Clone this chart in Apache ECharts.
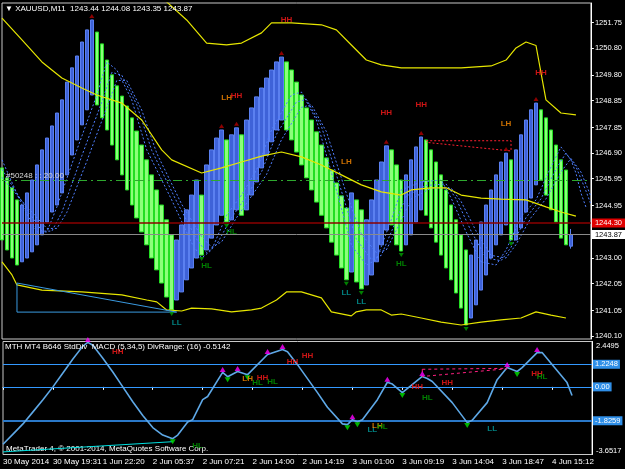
<!DOCTYPE html>
<html><head><meta charset="utf-8">
<script src="https://cdn.jsdelivr.net/npm/echarts@6/dist/echarts.min.js"></script>
<style>html,body{margin:0;padding:0;background:#000;}#c{width:625px;height:469px;}</style>
</head><body><div id="c"></div>
<script>
// ---------- DATA ----------
const timeLabels = ['30 May 2014','30 May 19:31','1 Jun 22:20','2 Jun 05:37','2 Jun 07:21','2 Jun 14:00','2 Jun 14:19','3 Jun 01:00','3 Jun 09:19','3 Jun 14:04','3 Jun 18:47','4 Jun 15:12'];
const priceTicks = [1251.75,1250.80,1249.80,1248.85,1247.85,1246.90,1245.95,1244.95,1243.00,1242.05,1241.05,1240.10];
const lastQuote = [1243.44,1244.08,1243.35,1243.87]; // O H L C
const barOpen = [
 1246.35,1245.98,1245.61,1245.16,
 1242.86,1243.00,1243.23,1243.49,1243.86,1244.34,1244.71,1244.97,1245.42,1246.09,1246.83,1247.39,1247.95,1248.51,1249.06,
 1251.40,1250.96,1250.36,1249.81,1249.40,1249.02,1248.65,1248.21,1247.72,1247.20,1246.65,1246.09,1245.53,1244.97,1244.42,1243.86,
 1241.44,1241.74,1242.19,1242.63,1243.00,
 1245.34,
 1243.30,1243.74,1244.23,1244.59,
 1247.39,
 1244.42,1244.79,
 1247.58,
 1244.79,1245.34,1245.83,1246.35,1246.83,1247.32,1247.76,1248.13,
 1250.29,1249.99,1249.54,1249.06,1248.58,1248.13,1247.69,1247.20,1246.72,1246.27,1245.79,1245.31,1244.86,
 1242.48,
 1245.16,1244.79,
 1242.00,1242.37,1242.86,1243.49,1244.04,
 1247.02,1246.46,1245.90,
 1243.49,1243.86,1244.34,1244.79,
 1247.39,1247.02,1246.57,1246.09,1245.53,1244.97,1244.42,1243.86,1243.30,
 1240.77,1241.26,1241.81,1242.37,1243.00,1243.49,1243.86,1244.23,
 1246.65,
 1243.67,1244.12,1244.71,1245.23,1245.72,
 1248.51,1248.21,1247.76,1247.20,1246.65,1246.27
];
const barClose = [
 1243.67,1243.30,1243.00,1242.74,
 1244.97,1245.42,1245.90,1246.46,1247.02,1247.46,1247.91,1248.39,1248.88,1249.54,1250.07,1250.51,1251.03,1251.48,1251.85,
 1248.69,1248.21,1247.76,1247.20,1246.65,1246.09,1245.53,1244.97,1244.49,1243.97,1243.49,1243.00,1242.56,1242.07,1241.55,1241.07,
 1243.67,1244.23,1244.79,1245.34,1245.90,
 1243.11,
 1246.46,1247.02,1247.46,1247.76,
 1244.34,
 1247.58,1247.84,
 1244.59,
 1248.13,1248.58,1248.99,1249.32,1249.69,1249.99,1250.29,1250.47,
 1247.76,1247.39,1246.94,1246.46,1245.98,1245.53,1245.08,1244.59,1244.12,1243.59,1243.11,1242.63,1242.19,
 1245.42,
 1242.11,1241.85,
 1244.42,1245.16,1245.90,1246.57,1247.17,
 1244.23,1243.49,1243.26,
 1246.09,1246.65,1247.13,1247.50,
 1244.59,1244.12,1243.59,1243.11,1242.63,1242.19,1241.70,1241.14,1240.51,
 1243.11,1243.67,1244.34,1244.97,1245.53,1246.09,1246.57,1246.90,
 1243.67,
 1247.02,1247.58,1248.13,1248.51,1248.76,
 1245.90,1245.34,1244.79,1244.34,1243.74,1243.49
];
const bandUpper = [[30,1253.0],[33,1252.52],[37,1251.85],[41,1250.99],[45,1250.92],[48,1250.99],[52,1251.37],[54,1251.74],[58,1251.74],[64,1251.67],[67,1251.48],[70,1250.92],[73,1250.36],[76,1250.18],[80,1250.07],[86,1250.07],[92,1250.07],[98,1250.14],[101,1250.36],[103,1250.81],[105,1251.03],[107,1250.9],[109,1248.88],[112,1248.39],[115,1248.32]];
const bandMid = [[0,1251.92],[4,1251.11],[8,1250.29],[12,1249.69],[16,1249.32],[19,1249.06],[24,1248.76],[28,1248.13],[32,1247.02],[34,1246.65],[40,1246.16],[44,1246.35],[48,1246.57],[52,1246.79],[56,1246.94],[60,1246.76],[64,1246.46],[68,1246.09],[72,1245.72],[76,1245.46],[80,1245.34],[82,1245.53],[86,1245.61],[89,1245.61],[92,1245.34],[96,1245.23],[100,1245.19],[105,1245.16],[109,1244.90],[112,1244.71],[115,1244.56]];
const bandLower = [[0,1242.86],[2,1242.37],[3,1242.00],[8,1241.81],[16,1241.74],[24,1241.63],[29,1241.44],[31,1241.37],[33,1241.07],[36,1241.03],[38,1241.14],[42,1241.11],[46,1241.00],[50,1241.07],[52,1241.14],[55,1241.44],[57,1241.74],[60,1241.74],[64,1241.52],[66,1241.00],[70,1240.85],[71,1241.00],[73,1241.07],[76,1241.07],[78,1240.88],[80,1240.92],[84,1240.77],[88,1240.62],[92,1240.51],[96,1240.62],[100,1240.70],[104,1240.77],[107,1241.00],[110,1240.88],[113,1240.77]];
const maFast = [[0,1246.65],[4,1244.97],[7,1243.97],[9,1243.97],[11,1244.90],[15,1247.02],[19,1249.06],[21,1250.29],[23,1249.99],[26,1248.88],[29,1247.02],[34,1245.16],[38,1243.56],[40,1243.00],[42,1243.30],[45,1244.59],[48,1245.34],[51,1246.27],[54,1247.76],[58,1249.06],[60,1249.17],[63,1248.13],[67,1245.53],[70,1243.49],[73,1242.74],[75,1242.93],[78,1244.42],[80,1245.53],[84,1245.83],[88,1245.90],[90,1245.23],[93,1243.97],[96,1242.86],[99,1242.74],[101,1243.30],[104,1244.52],[107,1245.16],[110,1246.38],[112,1247.13],[114,1246.65],[115,1246.16],[116,1245.42],[117,1244.90]];
const maMid = [[0,1246.3],[4,1245.1],[8,1244.0],[10,1244.0],[12,1244.7],[16,1246.8],[20,1248.8],[22,1249.9],[24,1249.8],[27,1248.7],[30,1247.0],[35,1245.1],[39,1243.7],[41,1243.2],[43,1243.5],[46,1244.5],[49,1245.3],[52,1246.2],[55,1247.6],[59,1248.8],[61,1248.9],[64,1247.9],[68,1245.5],[71,1243.7],[74,1242.95],[76,1243.1],[79,1244.4],[81,1245.3],[85,1245.7],[89,1245.75],[91,1245.2],[94,1244.0],[97,1243.0],[100,1242.9],[102,1243.4],[105,1244.5],[108,1245.2],[111,1246.3],[113,1246.9],[115,1246.4],[117,1245.5],[118,1245.0]];
const maSlow = [[0,1246.0],[5,1244.9],[9,1244.1],[11,1244.1],[13,1244.7],[17,1246.6],[21,1248.6],[23,1249.6],[25,1249.6],[28,1248.5],[31,1246.9],[36,1245.0],[40,1243.8],[42,1243.4],[44,1243.6],[47,1244.5],[50,1245.3],[53,1246.1],[56,1247.4],[60,1248.6],[62,1248.7],[65,1247.7],[69,1245.4],[72,1243.9],[75,1243.2],[77,1243.3],[80,1244.4],[82,1245.2],[86,1245.6],[90,1245.6],[92,1245.1],[95,1244.0],[98,1243.1],[101,1243.0],[103,1243.5],[106,1244.5],[109,1245.2],[112,1246.2],[114,1246.7],[116,1246.2],[118,1245.3]];
const priceTagIdx = [57,45,47,77,84,69,101,108,46,41,35,69,72,80];
const priceTagVal = [1251.85,1248.96,1249.03,1248.40,1248.70,1246.57,1247.98,1249.88,1243.97,1242.70,1240.58,1241.70,1241.37,1242.78];
const priceTagText = ['HH','LH','HH','HH','HH','LH','LH','HH','HL','HL','LL','LL','LL','HL'];
const peakIdx = [18,44,47,56,77,84,101,107];
const troughIdx = [34,40,45,69,72,80,93,102];
const priceDivA = [[85,1247.36],[102,1247.36],[102,1246.98],[85,1247.30]];
const priceDivB = [[3,1242.07],[35,1240.99]];
const priceDivC = [[3,1242.07],[3,1240.99],[35,1240.99]];
const levelGreen = 1245.88, levelRed = 1244.30;

const macdIdx = [0,2,4,6,8,10,12,14,16,17,18,20,22,24,26,28,30,32,34,35,37,38,40,41,44,45,47,49,53,56,57,59,63,65,68,69,70,71,72,75,77,78,80,84,85,86,90,93,94,97,99,101,103,104,107,108,110,113,114];
const macdVal = [-3.1,-2.55,-2.0,-1.35,-0.7,0.0,0.75,1.5,2.2,2.4,2.25,1.55,0.8,0.0,-0.8,-1.55,-2.2,-2.6,-2.8,-2.6,-1.9,-1.77,-0.69,-0.52,0.78,0.55,0.83,0.66,1.75,2.02,1.9,1.2,-0.31,-1.1,-2.0,-2.04,-1.77,-1.88,-1.77,-0.69,0.25,0.15,-0.31,0.56,0.45,0.29,-0.85,-1.93,-1.8,-0.85,0.39,1.04,0.83,1.04,1.85,1.85,1.21,0.23,-0.47];
const macdLevels = [1.2248, 0, -1.8259];
const macdMin = -3.6517, macdMax = 2.4495;
const macdPeakIdx = [17,44,47,53,56,70,77,84,101,107];
const macdTroughIdx = [34,45,49,69,71,80,93,103];
const macdTagIdx = [23,58,61,49,51,52,54,74,75,76,83,85,89,98,107,108,39];
const macdTagVal = [1.91,1.37,1.69,0.45,0.23,0.50,0.29,-2.31,-2.09,-2.15,0.02,-0.58,0.23,-2.26,0.72,0.56,-3.17];
const macdTagText = ['HH','HH','HH','LH','HL','HH','HL','LL','LH','HL','HH','HL','HH','LL','HH','HL','HL'];
const macdDivA = [[84,0.95],[101,1.0],[101,1.04]];
const macdDivB = [[84,0.95],[84,0.56],[101,0.98]];
const macdDivC = [[0,-3.51],[34,-2.96]];

// ---------- BUILD ----------
const N = 119;
const cats = Array.from({length:N},(_,i)=>String(i));
const candles = barOpen.map((o,i)=>{const c=barClose[i];return [o,c,Math.min(o,c),Math.max(o,c)];});
candles.push([lastQuote[0],lastQuote[3],lastQuote[2],lastQuote[1]]);
const macdMap = {}; macdIdx.forEach((x,k)=>macdMap[x]=macdVal[k]);
const macdLine = macdIdx.map((x,k)=>[x,macdVal[k]]);
const tagColor = {HH:'#FF1A1A',LH:'#FF8C00',HL:'#00A000',LL:'#00A0A0'};
const FONT = 'Liberation Sans';

const tagSeries = (xi,yi,idxArr,valArr,txtArr)=>({
  type:'scatter', xAxisIndex:xi, yAxisIndex:yi, symbolSize:0, silent:true, z:10,
  data: idxArr.map((x,k)=>({value:[x,valArr[k]], label:{show:true,position:'inside',formatter:txtArr[k],color:tagColor[txtArr[k]],fontSize:8,fontWeight:'bold',fontFamily:FONT}}))
});
const titleStyle = {color:'#FFFFFF',fontSize:8,fontWeight:'normal',fontFamily:FONT};

const chart = echarts.init(document.getElementById('c'));
chart.setOption({
  backgroundColor:'#000000',
  animation:false,
  textStyle:{fontFamily:FONT},
  title:[
    {text:'\u25BC XAUUSD,M11  '+lastQuote.map(v=>v.toFixed(2)).join(' '), left:5, top:5, padding:0, textStyle:titleStyle},
    {text:'MTH MT4 B646 StdDiv  MACD (5,34,5) DivRange: (16) -0.5142', left:5, top:343, padding:0, textStyle:titleStyle},
    {text:'MetaTrader 4, \u00A9 2001-2014, MetaQuotes Software Corp.', left:6, top:445, padding:0, textStyle:titleStyle}
  ],
  grid:[
    {left:2, top:3, width:590, height:336, show:true, borderColor:'#C8C8C8', borderWidth:1, backgroundColor:'#000'},
    {left:2, top:341.5, width:590, height:113, show:true, borderColor:'#C8C8C8', borderWidth:1, backgroundColor:'#000'}
  ],
  xAxis:[
    {type:'category', gridIndex:0, data:cats, boundaryGap:false, show:false},
    {type:'category', gridIndex:1, data:cats, boundaryGap:false,
     axisLine:{show:true,lineStyle:{color:'#FFFFFF',width:1}},
     axisTick:{show:true,interval:9,length:3,lineStyle:{color:'#FFFFFF'}},
     axisLabel:{show:true,interval:9,align:'left',margin:3,color:'#FFFFFF',fontSize:8,fontFamily:FONT,
       formatter:(v,i)=> (i%10===0 && timeLabels[i/10]) ? timeLabels[i/10] : ''},
     splitLine:{show:false}}
  ],
  yAxis:[
    {type:'value', gridIndex:0, position:'right', min:1239.99, max:1252.48, scale:true,
     axisLine:{show:true,lineStyle:{color:'#FFFFFF'}},
     axisTick:{show:true,length:3,customValues:priceTicks,lineStyle:{color:'#FFFFFF'}},
     axisLabel:{show:true,customValues:priceTicks,margin:4,color:'#FFFFFF',fontSize:7.5,fontFamily:FONT,formatter:v=>v.toFixed(2)},
     splitLine:{show:false}},
    {type:'value', gridIndex:1, position:'right', min:macdMin, max:macdMax,
     axisLine:{show:true,lineStyle:{color:'#FFFFFF'}},
     axisTick:{show:false},
     axisLabel:{show:true,customValues:[macdMin,macdMax],margin:4,color:'#FFFFFF',fontSize:7.5,fontFamily:FONT,
       verticalAlignMinLabel:'bottom',verticalAlignMaxLabel:'top',formatter:v=>v.toFixed(4)},
     splitLine:{show:false}}
  ],
  series:[
    {type:'candlestick', xAxisIndex:0, yAxisIndex:0, data:candles, barWidth:4, z:2,
     itemStyle:{color:'#3E62D8',color0:'#8CFF7A',borderColor:'#5B80F0',borderColor0:'#22DD22',borderWidth:1},
     markLine:{symbol:'none', silent:true, animation:false,
       data:[
        {yAxis:levelGreen, lineStyle:{color:'#2EA82E',type:[9,4,2,4],width:1},
         label:{show:true,position:'insideStartTop',formatter:'#50248 : : 20.00',color:'#D8D8D8',fontSize:8,fontFamily:FONT,distance:[4,1]}},
        {yAxis:levelRed, lineStyle:{color:'#8B0000',type:'solid',width:1.5},
         label:{show:true,position:'end',formatter:levelRed.toFixed(2),color:'#FFFFFF',backgroundColor:'#E00000',fontSize:7.5,fontFamily:FONT,padding:[1,4,0,3],distance:1}},
        {yAxis:lastQuote[3], lineStyle:{color:'#8A8A8A',type:'solid',width:1},
         label:{show:true,position:'end',formatter:lastQuote[3].toFixed(2),color:'#000000',backgroundColor:'#FFFFFF',fontSize:7.5,fontFamily:FONT,padding:[1,4,0,3],distance:1}}
       ]}},
    {type:'line', xAxisIndex:0, yAxisIndex:0, data:maFast, showSymbol:false, z:4, lineStyle:{color:'#4F7FFF',width:1,type:[2,2]}},
    {type:'line', xAxisIndex:0, yAxisIndex:0, data:maMid, showSymbol:false, z:4, lineStyle:{color:'#4F7FFF',width:1,type:[2,2]}},
    {type:'line', xAxisIndex:0, yAxisIndex:0, data:maSlow, showSymbol:false, z:4, lineStyle:{color:'#4F7FFF',width:1,type:[2,2]}},
    {type:'line', xAxisIndex:0, yAxisIndex:0, data:bandUpper, showSymbol:false, z:5, clip:true, lineStyle:{color:'#E6E600',width:1.2}},
    {type:'line', xAxisIndex:0, yAxisIndex:0, data:bandMid, showSymbol:false, z:5, lineStyle:{color:'#E6E600',width:1.2}},
    {type:'line', xAxisIndex:0, yAxisIndex:0, data:bandLower, showSymbol:false, z:5, lineStyle:{color:'#E6E600',width:1.2}},
    {type:'line', xAxisIndex:0, yAxisIndex:0, data:priceDivA, showSymbol:false, z:6, lineStyle:{color:'#FF2030',width:1,type:[2,2]}},
    {type:'line', xAxisIndex:0, yAxisIndex:0, data:priceDivB, showSymbol:false, z:6, lineStyle:{color:'#3A9AE0',width:1}},
    {type:'line', xAxisIndex:0, yAxisIndex:0, data:priceDivC, showSymbol:false, z:6, lineStyle:{color:'#3A9AE0',width:1}},
    {type:'scatter', xAxisIndex:0, yAxisIndex:0, silent:true, z:8, symbol:'triangle', symbolSize:[5,4], symbolOffset:[0,-4],
     itemStyle:{color:'#B00000'}, data:peakIdx.map(i=>[i,candles[i][3]])},
    {type:'scatter', xAxisIndex:0, yAxisIndex:0, silent:true, z:8, symbol:'triangle', symbolRotate:180, symbolSize:[5,4], symbolOffset:[0,4],
     itemStyle:{color:'#00A000'}, data:troughIdx.map(i=>[i,candles[i][2]])},
    tagSeries(0,0,priceTagIdx,priceTagVal,priceTagText),

    {type:'line', xAxisIndex:1, yAxisIndex:1, data:macdLine, showSymbol:false, z:5, lineStyle:{color:'#5EA8E6',width:1.6},
     markLine:{symbol:'none', silent:true, animation:false,
       data: macdLevels.map((v,k)=>({yAxis:v, lineStyle:{color: k===2?'#2A78C8':'#3399FF', width: k===2?2:1.2, type:'solid'},
         label:{show:true,position:'end',formatter: v===0?'0.00':v.toFixed(4),color:'#FFFFFF',backgroundColor:'#2F8FE8',fontSize:7.5,fontFamily:FONT,padding:[1,2,0,2],distance:1}}))}},
    {type:'line', xAxisIndex:1, yAxisIndex:1, data:macdDivA, showSymbol:false, z:6, lineStyle:{color:'#FF2080',width:1,type:[3,3]}},
    {type:'line', xAxisIndex:1, yAxisIndex:1, data:macdDivB, showSymbol:false, z:6, lineStyle:{color:'#FF2080',width:1,type:[3,3]}},
    {type:'line', xAxisIndex:1, yAxisIndex:1, data:macdDivC, showSymbol:false, z:6, lineStyle:{color:'#00E0E0',width:1}},
    {type:'scatter', xAxisIndex:1, yAxisIndex:1, silent:true, z:8, symbol:'triangle', symbolSize:[6,5], symbolOffset:[0,-3],
     itemStyle:{color:'#FF00FF'}, data:macdPeakIdx.map(i=>[i,macdMap[i]])},
    {type:'scatter', xAxisIndex:1, yAxisIndex:1, silent:true, z:8, symbol:'triangle', symbolRotate:180, symbolSize:[6,5], symbolOffset:[0,3],
     itemStyle:{color:'#00E000'}, data:macdTroughIdx.map(i=>[i,macdMap[i]])},
    tagSeries(1,1,macdTagIdx,macdTagVal,macdTagText)
  ]
});
</script></body></html>
